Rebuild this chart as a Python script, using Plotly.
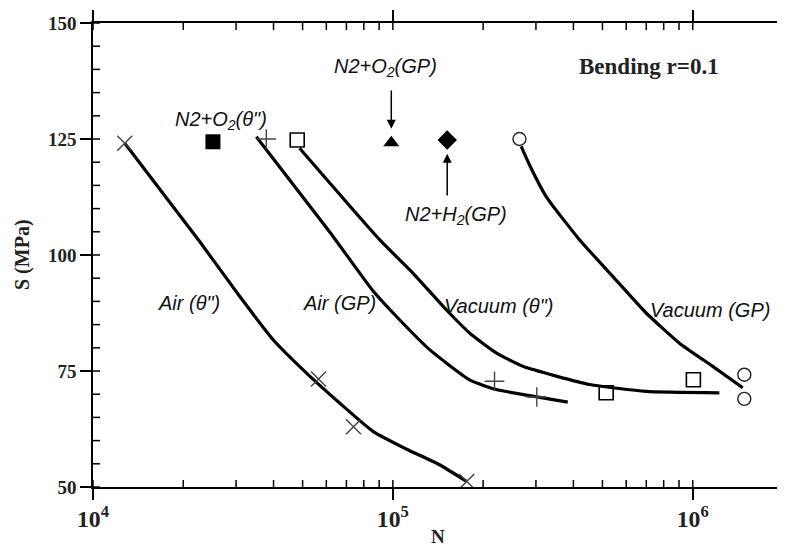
import numpy as np
import plotly.graph_objects as go

# ---------------- data ----------------
air_theta_N = [12760, 22680, 30830, 39810, 51440, 66430, 85770, 110800, 143100, 175700]
air_theta_S = [124.1, 102.9, 91.1, 81.8, 74.6, 68.1, 62.0, 58.2, 54.8, 51.25]

air_gp_N = [35050, 61500, 85770, 102600, 132600, 180200, 221100, 285600, 383000]
air_gp_S = [125.5, 105.0, 92.3, 86.8, 79.6, 73.1, 71.0, 69.7, 68.3]

vac_theta_N = [48870, 90300, 116600, 150700, 180200, 221100, 271300, 350500, 452600, 699300, 1227000]
vac_theta_S = [123.0, 103.3, 96.1, 88.2, 83.2, 78.9, 76.0, 73.9, 72.1, 70.6, 70.3]

vac_gp_N = [267900, 285600, 324500, 419000, 541000, 699300, 903000, 1166000, 1468000]
vac_gp_S = [123.4, 119.4, 112.6, 103.3, 95.4, 87.5, 81.0, 76.0, 71.4]

air_theta_pts_N = [12760, 56500, 73900, 176400]
air_theta_pts_S = [124.1, 73.3, 63.0, 51.2]

air_gp_pts_N = [37840, 218300, 302000]
air_gp_pts_S = [125.0, 72.8, 69.4]

vac_theta_pts_N = [47970, 514500, 1005000]
vac_theta_pts_S = [124.8, 70.3, 73.1]

vac_gp_pts_N = [264400, 1486000, 1486000]
vac_gp_pts_S = [125.0, 74.2, 69.0]

n2o2_theta_N = [25120]
n2o2_theta_S = [124.4]
n2o2_gp_N = [98800]
n2o2_gp_S = [124.2]
n2h2_gp_N = [151800]
n2h2_gp_S = [124.8]

x_range = [1e4, 2e6]
y_range = [50, 150]
y_major_step = 25
y_minor_step = 5
x_minor_ticks = [k * 10 ** e for e in (4, 5, 6) for k in range(1, 10) if k * 10 ** e <= x_range[1]]
y_minor_ticks = [float(v) for v in range(y_range[0], y_range[1] + 1, y_minor_step)]

# ---------------- figure ----------------
fig = go.Figure()

for xs, ys in [(air_theta_N, air_theta_S), (air_gp_N, air_gp_S),
               (vac_theta_N, vac_theta_S), (vac_gp_N, vac_gp_S)]:
    fig.add_trace(go.Scatter(x=xs, y=ys, mode="lines",
                             line=dict(color="black", width=3.2, shape="spline", smoothing=0.5),
                             showlegend=False, hoverinfo="skip"))

def pts(xs, ys, symbol, size, color="black", lw=1.5, fill=None):
    fig.add_trace(go.Scatter(
        x=xs, y=ys, mode="markers", showlegend=False,
        marker=dict(symbol=symbol, size=size, color=fill if fill else color,
                    line=dict(color=color, width=lw))))

pts(air_theta_pts_N, air_theta_pts_S, "x-thin-open", 15, color="#444444", lw=1.4)
pts(air_gp_pts_N, air_gp_pts_S, "cross-thin-open", 14, color="#444444", lw=1.4)
pts(vac_theta_pts_N, vac_theta_pts_S, "square-open", 14, color="black", lw=1.6)
pts(vac_gp_pts_N, vac_gp_pts_S, "circle-open", 13, color="#222222", lw=1.4)
pts(n2o2_theta_N, n2o2_theta_S, "square", 15, color="black", lw=0, fill="black")
pts(n2o2_gp_N, n2o2_gp_S, "triangle-up", 14, color="black", lw=0, fill="black")
pts(n2h2_gp_N, n2h2_gp_S, "diamond", 15, color="black", lw=0, fill="black")

lg = np.log10
ital = dict(family="Liberation Sans, Arial", size=20, color="#111111", style="italic")
ann = []
def lab(text, n, s, font=ital):
    ann.append(dict(x=lg(n), y=s, xref="x", yref="y", text=text, showarrow=False,
                    font=font, xanchor="center", yanchor="middle"))

lab("Air (θ\")", 20880, 89.7)
lab("Air (GP)", 66430, 89.7)
lab("Vacuum (θ\")", 225000, 89.1)
lab("Vacuum (GP)", 1146000, 88.2)
lab("N2+O<sub>2</sub>(θ\")", 26690, 129.0)
lab("N2+O<sub>2</sub>(GP)", 94600, 140.4)
lab("N2+H<sub>2</sub>(GP)", 161800, 108.5)
lab("Bending r=0.1", 717300, 140.7,
    font=dict(family="Liberation Serif, Times New Roman", size=23, color="#222222", weight="bold"))

ann.append(dict(x=lg(n2o2_gp_N[0]), y=127.2, ax=lg(n2o2_gp_N[0]), ay=135.8,
                xref="x", yref="y", axref="x", ayref="y", text="", showarrow=True,
                arrowhead=2, arrowsize=1.2, arrowwidth=1.5, arrowcolor="black"))
ann.append(dict(x=lg(n2h2_gp_N[0]), y=121.8, ax=lg(n2h2_gp_N[0]), ay=112.5,
                xref="x", yref="y", axref="x", ayref="y", text="", showarrow=True,
                arrowhead=2, arrowsize=1.2, arrowwidth=1.5, arrowcolor="black"))

serif_b = dict(family="Liberation Serif, Times New Roman", size=19, color="#222222", weight="bold")
ann.append(dict(x=0.5, y=0, xref="paper", yref="paper", text="N", showarrow=False,
                font=serif_b, xanchor="center", yanchor="middle", yshift=-49))
ann.append(dict(x=0, y=0.5, xref="paper", yref="paper", text="S (MPa)", showarrow=False,
                font=dict(serif_b, size=20), xanchor="center", yanchor="middle",
                xshift=-71, textangle=-90))

# inside (minor + inner half of major) ticks on all four sides, placed via the axes
plot_h = 464.5
tick_in = 7
tick_line = dict(color="black", width=1.5)
shapes = []
for v in x_minor_ticks:
    for y0, y1 in [(0, tick_in / plot_h), (1, 1 - tick_in / plot_h)]:
        shapes.append(dict(type="line", xref="x", yref="y domain", x0=v, x1=v,
                           y0=y0, y1=y1, line=tick_line, layer="above"))
for v in y_minor_ticks:
    for anchor, x0, x1 in [(x_range[0], 0, tick_in), (x_range[1], -tick_in, 0)]:
        shapes.append(dict(type="line", xref="x", yref="y", xsizemode="pixel",
                           xanchor=anchor, x0=x0, x1=x1, y0=v, y1=v,
                           line=tick_line, layer="above"))

tickfont = dict(family="Liberation Serif, Times New Roman", size=19, color="#222222", weight="bold")

fig.update_layout(
    template="none",
    width=777, height=539,
    margin=dict(l=85, r=2, t=15, b=59.5, pad=0),
    paper_bgcolor="white", plot_bgcolor="white",
    showlegend=False,
    annotations=ann,
    shapes=shapes,
    xaxis=dict(type="log", range=[lg(x_range[0]), lg(x_range[1])],
               tickmode="linear", tick0=0, dtick=1, exponentformat="power",
               showexponent="all", ticks="outside", ticklen=11,
               tickwidth=1.5, tickcolor="black", showline=True, linecolor="black",
               linewidth=1.5, mirror="ticks", showgrid=False, zeroline=False,
               tickfont=tickfont, automargin=False),
    yaxis=dict(range=y_range, tickmode="linear", tick0=y_range[0], dtick=y_major_step,
               ticks="outside", ticklen=11,
               tickwidth=1.5, tickcolor="black", showline=True, linecolor="black",
               linewidth=1.5, mirror=True, showgrid=False, zeroline=False,
               tickfont=tickfont, automargin=False),
)

fig.write_html("out.html")
